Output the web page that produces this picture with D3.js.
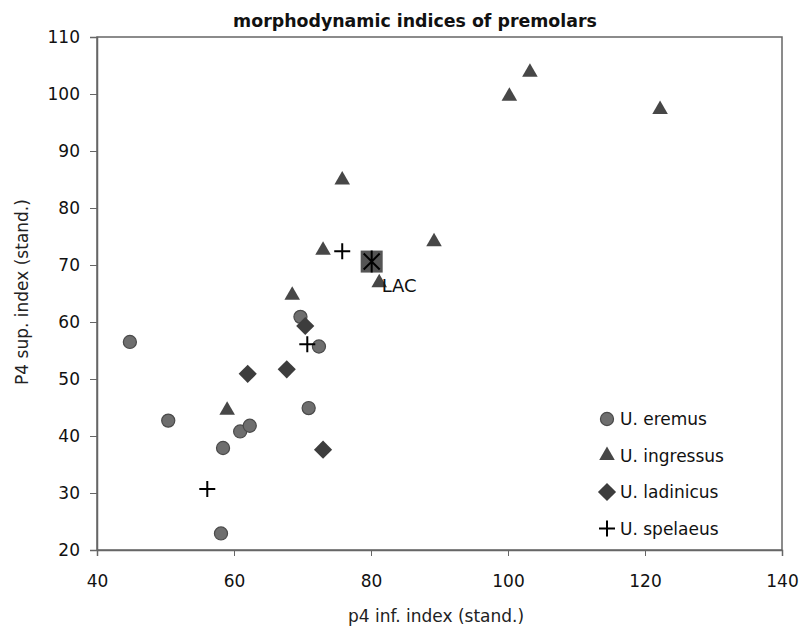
<!DOCTYPE html>
<html><head><meta charset="utf-8">
<script src="https://cdn.jsdelivr.net/npm/d3@7"></script>
<style>body{margin:0;background:#fff}svg{display:block}text{font-family:"DejaVu Sans",sans-serif}</style>
</head><body>
<svg id="c" width="801" height="634"></svg>
<script>
const xTicks = [40, 60, 80, 100, 120, 140];
const yTicks = [20, 30, 40, 50, 60, 70, 80, 90, 100, 110];
const eremus = [[44.8,56.5],[50.4,42.7],[58.4,37.9],[58.1,22.9],[60.9,40.8],[62.3,41.8],[69.7,60.9],[72.4,55.7],[70.9,44.9]];
const ingressus = [[103.2,103.8],[100.2,99.6],[122.2,97.3],[75.8,84.9],[89.2,74.1],[73.0,72.6],[81.2,66.9],[68.5,64.7],[59.0,44.5]];
const ladinicus = [[70.4,59.3],[62.0,50.9],[67.7,51.7],[73.0,37.6]];
const spelaeus = [[56.1,30.7],[70.7,56.1],[75.8,72.4]];
const lac = [[80.1,70.6]];
const legendNames = ["U. eremus","U. ingressus","U. ladinicus","U. spelaeus"];

const svg = d3.select("#c");
const m = {l:97, r:782, t:37, b:550};
const x = d3.scaleLinear().domain([40,140]).range([m.l, m.r]);
const y = d3.scaleLinear().domain([20,110]).range([m.b, m.t]);

const title = svg.append("text").attr("x",415).attr("y",27).attr("text-anchor","middle")
  .attr("font-size",16).attr("font-weight","bold").attr("fill","#111").text("morphodynamic indices of premolars");
const tw = title.node().getComputedTextLength();
title.attr("font-size", 16*364/tw);

svg.append("rect").attr("x",m.l).attr("y",m.t).attr("width",m.r-m.l).attr("height",m.b-m.t)
  .attr("fill","#fff").attr("stroke","#666").attr("stroke-width",1.5);

const xa = svg.append("g").attr("transform",`translate(0,${m.b})`)
  .call(d3.axisBottom(x).tickValues(xTicks).tickSize(6).tickPadding(19).tickFormat(d3.format("d")));
const ya = svg.append("g").attr("transform",`translate(${m.l},0)`)
  .call(d3.axisLeft(y).tickValues(yTicks).tickSize(7).tickPadding(10).tickFormat(d3.format("d")));
[xa,ya].forEach(a=>{
  a.select(".domain").attr("stroke","#666").attr("stroke-width",1.5);
  a.selectAll(".tick line").attr("stroke","#666");
  a.selectAll(".tick text").attr("font-size",17).attr("fill","#111").style("font-family","'DejaVu Sans',sans-serif");
});

svg.append("text").attr("x",436).attr("y",622).attr("text-anchor","middle")
  .attr("font-size",17).attr("fill","#222").text("p4 inf. index (stand.)");
svg.append("text").attr("transform","translate(28,292) rotate(-90)").attr("text-anchor","middle")
  .attr("font-size",17).attr("fill","#222").text("P4 sup. index (stand.)");

const g = svg.append("g");
// LAC
lac.forEach(d=>{
  const cx=x(d[0]), cy=y(d[1]);
  g.append("rect").attr("x",cx-11).attr("y",cy-11).attr("width",22).attr("height",22).attr("fill","#555");
  g.append("path").attr("d",`M${cx-8},${cy-8}L${cx+8},${cy+8}M${cx-8},${cy+8}L${cx+8},${cy-8}M${cx},${cy-11}L${cx},${cy+11}`)
    .attr("stroke","#000").attr("stroke-width",2);
});

const sym = {
  circle: d3.symbol().type(d3.symbolCircle).size(135),
  tri: d3.symbol().type(d3.symbolTriangle).size(105),
  dia: d3.symbol().type(d3.symbolSquare).size(165)
};
function drawCircle(sel){ sel.attr("d",sym.circle()).attr("fill","#6e6e6e").attr("stroke","#4a4a4a").attr("stroke-width",1.2); }
function drawTri(sel){ sel.attr("d",sym.tri()).attr("fill","#474747"); }
function drawDia(sel){ sel.attr("d",sym.dia()).attr("fill","#3d3d3d"); }
function drawPlus(sel){ sel.attr("d","M-8,0L8,0M0,-8L0,8").attr("stroke","#000").attr("stroke-width",2).attr("fill","none"); }

g.selectAll(".e").data(eremus).join("path").attr("transform",d=>`translate(${x(d[0])},${y(d[1])})`).call(drawCircle);
g.selectAll(".i").data(ingressus).join("path").attr("transform",d=>`translate(${x(d[0])},${y(d[1])})`).call(drawTri);
g.selectAll(".l").data(ladinicus).join("path").attr("transform",d=>`translate(${x(d[0])},${y(d[1])}) rotate(45)`).call(drawDia);
g.selectAll(".s").data(spelaeus).join("path").attr("transform",d=>`translate(${x(d[0])},${y(d[1])})`).call(drawPlus);

lac.forEach(d=>{
  g.append("text").attr("x",x(d[0])+10).attr("y",y(d[1])+30).attr("font-size",18).attr("fill","#111").text("LAC");
});

// legend
const lg = svg.append("g");
const drawers=[drawCircle,drawTri,drawDia,drawPlus];
legendNames.forEach((n,i)=>{
  const ly = 419 + i*36.5;
  const p = lg.append("path").attr("transform",`translate(607,${ly})${i==2?" rotate(45)":""}`);
  drawers[i](p);
  lg.append("text").attr("x",620).attr("y",ly+6).attr("font-size",17).attr("fill","#111").text(n);
});
</script>
</body></html>
